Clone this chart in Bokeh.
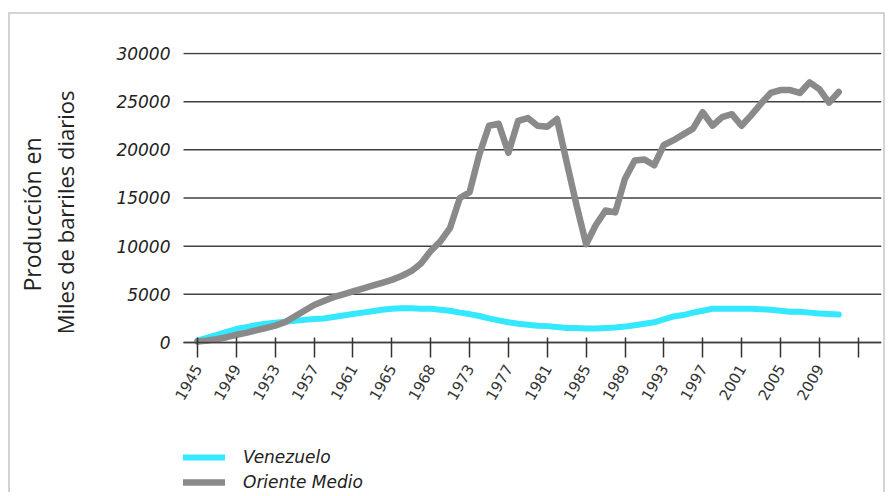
import math
from bokeh.plotting import figure
from bokeh.models import Range1d, FixedTicker, Legend, LegendItem, Title
from bokeh.embed import file_html
from bokeh.resources import INLINE

# ---- data ----
years = list(range(1945, 2012))  # 67 yearly points
venezuela = [200, 500, 800, 1100, 1400, 1600, 1800, 1950, 2050, 2150,
             2250, 2350, 2450, 2500, 2650, 2800, 2950, 3100, 3250, 3400,
             3500, 3550, 3550, 3500, 3500, 3400, 3300, 3100, 2950, 2750,
             2500, 2300, 2100, 1950, 1850, 1750, 1700, 1600, 1500, 1500,
             1450, 1450, 1500, 1550, 1650, 1800, 1950, 2100, 2400, 2700,
             2850, 3100, 3300, 3500, 3500, 3500, 3500, 3500, 3450, 3400,
             3300, 3200, 3200, 3100, 3000, 2950, 2900]
oriente_medio = [100, 200, 350, 550, 800, 1000, 1250, 1500, 1750, 2100,
                 2700, 3300, 3900, 4300, 4700, 5000, 5300, 5600, 5900, 6200,
                 6500, 6900, 7400, 8200, 9500, 10500, 11900, 15000, 15600, 19500,
                 22500, 22700, 19700, 23000, 23300, 22500, 22400, 23200, 18700, 14300,
                 10200, 12200, 13700, 13500, 17000, 18900, 19000, 18400, 20500, 21000,
                 21600, 22200, 23900, 22500, 23400, 23700, 22500, 23600, 24800, 25900,
                 26200, 26200, 25900, 27000, 26300, 24900, 26000]
x_tick_pos = [1945, 1949, 1953, 1957, 1961, 1965, 1969, 1973, 1977, 1981,
              1985, 1989, 1993, 1997, 2001, 2005, 2009, 2013]
x_tick_labels = ["1945", "1949", "1953", "1957", "1961", "1965", "1968", "1973",
                 "1977", "1981", "1985", "1989", "1993", "1997", "2001", "2005",
                 "2009", ""]
y_ticks = [0, 5000, 10000, 15000, 20000, 25000, 30000]
y_tick_labels = ["0", "5000", "10000", "15000", "20000", "25000", "30000"]
series_names = ["Venezuelo", "Oriente Medio"]
y_title_lines = ["Producción en", "Miles de barriles diarios"]

X_START, X_END = 1943.56, 2015.4   # extent of axis line and grid lines

p = figure(width=877, height=480, output_backend="svg", toolbar_location=None,
           x_range=Range1d(1941.5, X_END), y_range=Range1d(-15776, 30100),
           min_border_left=153, min_border_right=6, min_border_top=38,
           min_border_bottom=0,
           styles={"border-top": "2px solid #d4d4d4", "border-left": "2px solid #d4d4d4",
                   "border-right": "2px solid #d4d4d4", "margin-top": "12px",
                   "margin-left": "8px"})
p.outline_line_color = None
p.background_fill_color = "white"
p.border_fill_color = "white"

# grid lines (limited horizontally like the original)
p.xgrid.grid_line_color = None
p.ygrid.grid_line_color = None
p.segment(x0=[X_START] * len(y_ticks), y0=y_ticks, x1=[X_END] * len(y_ticks), y1=y_ticks,
          line_color="#404040", line_width=1.5)

# y axis
p.yaxis.ticker = FixedTicker(ticks=y_ticks)
p.yaxis.major_label_overrides = {t: l for t, l in zip(y_ticks, y_tick_labels)}
p.yaxis.axis_line_color = None
p.yaxis.major_tick_line_color = None
p.yaxis.major_tick_in = 0
p.yaxis.major_tick_out = 0
p.yaxis.minor_tick_line_color = None
p.yaxis.major_label_standoff = -7
p.yaxis.major_label_text_font = "DejaVu Sans"
p.yaxis.major_label_text_font_style = "italic"
p.yaxis.major_label_text_font_size = "17px"
p.yaxis.major_label_text_color = "#222222"
# tiny blank axis label used only as spacing before the two title lines
p.yaxis.axis_label = " "
p.yaxis.axis_label_text_font_size = "1px"
p.yaxis.axis_label_standoff = 30

p.add_layout(Title(text=y_title_lines[1], align="right", offset=38, text_font="Open Sans",
                   text_font_style="normal", text_font_size="22px",
                   text_color="#222222", standoff=0), "left")
p.add_layout(Title(text=y_title_lines[0], align="right", offset=85, text_font="Open Sans",
                   text_font_style="normal", text_font_size="23px",
                   text_color="#222222", standoff=0), "left")

# x axis drawn at y = 0 inside the frame
p.xaxis.fixed_location = 0
p.xaxis.bounds = (X_START, X_END)
p.xaxis.ticker = FixedTicker(ticks=x_tick_pos)
p.xaxis.major_label_overrides = {t: l for t, l in zip(x_tick_pos, x_tick_labels)}
p.xaxis.axis_line_color = "#404040"
p.xaxis.axis_line_width = 1.5
p.xaxis.major_tick_line_color = "#333333"
p.xaxis.major_tick_line_width = 1.5
p.xaxis.major_tick_in = 5
p.xaxis.major_tick_out = 15
p.xaxis.minor_tick_line_color = None
p.xaxis.major_label_orientation = 1.05
p.xaxis.major_label_standoff = 8
p.xaxis.major_label_text_font = "DejaVu Sans"
p.xaxis.major_label_text_font_size = "15px"
p.xaxis.major_label_text_color = "#333333"

# lines
r_v = p.line(years, venezuela, line_color="#33E8FF", line_width=6,
             line_cap="round", line_join="round")
r_o = p.line(years, oriente_medio, line_color="#8A8A8A", line_width=6.5,
             line_cap="round", line_join="round")

legend = Legend(items=[LegendItem(label=series_names[0], renderers=[r_v]),
                       LegendItem(label=series_names[1], renderers=[r_o])],
                location=(20, 2), orientation="vertical")
legend.padding = 0
legend.margin = 0
legend.spacing = 5
legend.glyph_width = 42
legend.glyph_height = 20
legend.label_height = 20
legend.label_standoff = 18
legend.label_text_font = "DejaVu Sans"
legend.label_text_font_style = "italic"
legend.label_text_font_size = "17px"
legend.label_text_color = "#222222"
legend.border_line_color = None
legend.background_fill_alpha = 0
p.add_layout(legend, "center")

open("out.html", "w").write(file_html(p, INLINE))
